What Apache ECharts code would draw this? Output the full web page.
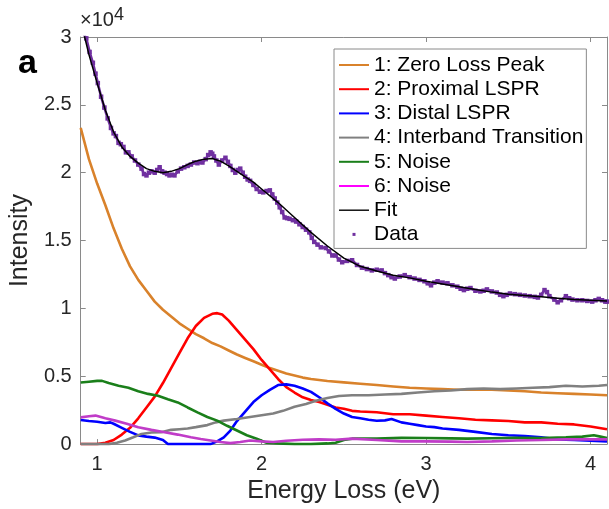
<!DOCTYPE html>
<html>
<head>
<meta charset="utf-8">
<script src="https://cdn.jsdelivr.net/npm/echarts@6/dist/echarts.min.js"></script>
<style>html,body{margin:0;padding:0;background:#fff}#c{width:609px;height:509px}</style>
</head>
<body>
<div id="c"></div>
<script>
const FONT = "'Liberation Sans', Arial, Helvetica, sans-serif";
const xTickLabels = ['1', '2', '3', '4'];
const yTickLabels = ['0', '0.5', '1', '1.5', '2', '2.5', '3'];
const seriesNames = ['1: Zero Loss Peak', '2: Proximal LSPR', '3: Distal LSPR', '4: Interband Transition', '5: Noise', '6: Noise', 'Fit', 'Data'];

// Intensity in units of 10^4
const zeroLoss = [[0.9,2.33],[0.95,2.10],[1.0,1.92],[1.05,1.76],[1.1,1.59],[1.15,1.44],[1.2,1.31],[1.25,1.21],[1.3,1.13],[1.35,1.05],[1.4,0.99],[1.45,0.94],[1.5,0.89],[1.55,0.85],[1.6,0.81],[1.65,0.78],[1.7,0.745],[1.75,0.72],[1.8,0.69],[1.85,0.66],[1.9,0.635],[1.95,0.61],[2.0,0.585],[2.05,0.56],[2.1,0.54],[2.15,0.52],[2.2,0.505],[2.25,0.49],[2.3,0.48],[2.4,0.465],[2.5,0.455],[2.6,0.445],[2.7,0.435],[2.8,0.425],[2.9,0.415],[3.0,0.41],[3.1,0.405],[3.2,0.40],[3.3,0.40],[3.4,0.40],[3.5,0.395],[3.6,0.39],[3.7,0.38],[3.8,0.375],[3.9,0.37],[4.0,0.365],[4.1,0.36]];
const proximal = [[0.9,0],[0.95,0],[1.0,0.0],[1.05,0.01],[1.1,0.03],[1.15,0.07],[1.2,0.12],[1.25,0.19],[1.3,0.27],[1.35,0.35],[1.4,0.45],[1.45,0.56],[1.5,0.67],[1.55,0.78],[1.6,0.87],[1.65,0.93],[1.7,0.96],[1.73,0.965],[1.76,0.955],[1.8,0.91],[1.85,0.84],[1.9,0.77],[1.95,0.70],[2.0,0.62],[2.05,0.55],[2.1,0.48],[2.15,0.42],[2.2,0.38],[2.25,0.345],[2.3,0.325],[2.35,0.31],[2.4,0.29],[2.45,0.27],[2.5,0.26],[2.55,0.245],[2.6,0.24],[2.7,0.235],[2.8,0.22],[2.9,0.22],[3.0,0.21],[3.1,0.2],[3.2,0.19],[3.3,0.18],[3.4,0.175],[3.5,0.17],[3.6,0.16],[3.7,0.16],[3.8,0.15],[3.9,0.145],[4.0,0.13],[4.1,0.11]];
const distal = [[0.9,0.178],[0.95,0.17],[1.0,0.165],[1.05,0.155],[1.08,0.16],[1.1,0.15],[1.15,0.12],[1.2,0.09],[1.25,0.064],[1.3,0.055],[1.35,0.048],[1.4,0.03],[1.43,0.0],[1.5,0],[1.6,0],[1.69,0],[1.73,0.02],[1.77,0.05],[1.81,0.1],[1.85,0.17],[1.9,0.24],[1.95,0.31],[2.0,0.36],[2.05,0.40],[2.1,0.435],[2.15,0.44],[2.2,0.43],[2.25,0.41],[2.3,0.385],[2.35,0.345],[2.4,0.30],[2.45,0.26],[2.5,0.225],[2.55,0.2],[2.6,0.19],[2.65,0.18],[2.7,0.172],[2.75,0.175],[2.79,0.185],[2.85,0.16],[2.9,0.15],[2.95,0.14],[3.0,0.13],[3.05,0.125],[3.1,0.115],[3.2,0.105],[3.3,0.09],[3.4,0.075],[3.5,0.065],[3.6,0.06],[3.7,0.05],[3.8,0.035],[3.9,0.03],[4.0,0.025],[4.1,0.02]];
const interband = [[0.9,0],[1.0,0],[1.07,0],[1.12,0.01],[1.17,0.027],[1.22,0.05],[1.27,0.075],[1.33,0.085],[1.39,0.088],[1.45,0.105],[1.5,0.11],[1.55,0.115],[1.6,0.125],[1.67,0.14],[1.72,0.16],[1.77,0.173],[1.85,0.185],[1.93,0.2],[2.01,0.215],[2.07,0.225],[2.13,0.245],[2.2,0.275],[2.27,0.295],[2.33,0.32],[2.4,0.34],[2.47,0.355],[2.55,0.36],[2.65,0.36],[2.75,0.365],[2.85,0.37],[2.95,0.38],[3.05,0.39],[3.15,0.395],[3.25,0.405],[3.35,0.41],[3.45,0.405],[3.55,0.41],[3.65,0.415],[3.75,0.42],[3.85,0.43],[3.95,0.425],[4.05,0.43],[4.1,0.435]];
const noise5 = [[0.9,0.454],[0.95,0.46],[1.0,0.466],[1.03,0.466],[1.07,0.45],[1.13,0.43],[1.19,0.415],[1.25,0.39],[1.31,0.37],[1.37,0.356],[1.43,0.33],[1.49,0.307],[1.55,0.27],[1.61,0.234],[1.67,0.2],[1.73,0.173],[1.79,0.135],[1.85,0.1],[1.91,0.065],[1.97,0.039],[2.03,0.01],[2.1,0.005],[2.2,0.0],[2.3,0.0],[2.4,0.005],[2.45,0.01],[2.5,0.03],[2.55,0.04],[2.7,0.04],[2.85,0.046],[3.0,0.045],[3.15,0.042],[3.25,0.04],[3.4,0.043],[3.55,0.046],[3.7,0.045],[3.85,0.05],[3.95,0.055],[4.02,0.065],[4.06,0.055],[4.1,0.045]];
const noise6 = [[0.9,0.197],[0.95,0.205],[0.99,0.21],[1.05,0.19],[1.11,0.173],[1.18,0.15],[1.25,0.124],[1.33,0.105],[1.41,0.088],[1.49,0.07],[1.57,0.05],[1.63,0.037],[1.69,0.027],[1.75,0.015],[1.81,0.007],[1.87,0.015],[1.93,0.027],[2.0,0.02],[2.07,0.015],[2.15,0.025],[2.25,0.032],[2.35,0.035],[2.45,0.032],[2.55,0.04],[2.7,0.03],[2.85,0.02],[3.0,0.02],[3.15,0.018],[3.25,0.015],[3.4,0.02],[3.55,0.027],[3.7,0.03],[3.85,0.035],[4.0,0.035],[4.1,0.035]];
const fitCurve = [[0.9,3.15],[0.92,3.02],[0.95,2.87],[1.0,2.66],[1.05,2.46],[1.1,2.30],[1.15,2.19],[1.2,2.12],[1.25,2.07],[1.3,2.03],[1.35,2.01],[1.4,2.00],[1.45,2.01],[1.5,2.03],[1.55,2.06],[1.6,2.085],[1.65,2.10],[1.7,2.105],[1.75,2.085],[1.8,2.05],[1.85,2.01],[1.9,1.97],[1.95,1.93],[2.0,1.88],[2.1,1.78],[2.2,1.67],[2.3,1.56],[2.4,1.46],[2.5,1.37],[2.6,1.31],[2.7,1.275],[2.8,1.245],[2.9,1.225],[3.0,1.20],[3.1,1.18],[3.2,1.16],[3.3,1.14],[3.4,1.12],[3.5,1.105],[3.6,1.095],[3.7,1.085],[3.8,1.075],[3.9,1.065],[4.0,1.06],[4.1,1.055]];
const measured = [[0.9,3.12],[0.92,3.02],[0.934,2.99],[0.954,2.89],[0.974,2.81],[0.99,2.73],[1.004,2.66],[1.024,2.56],[1.044,2.48],[1.064,2.40],[1.084,2.33],[1.1,2.29],[1.114,2.27],[1.13,2.22],[1.144,2.21],[1.16,2.19],[1.175,2.15],[1.19,2.15],[1.21,2.12],[1.23,2.09],[1.25,2.06],[1.27,2.03],[1.285,1.99],[1.30,1.98],[1.315,2.0],[1.33,2.01],[1.35,2.0],[1.365,2.02],[1.38,2.04],[1.395,2.01],[1.41,2.0],[1.425,1.99],[1.44,1.98],[1.455,1.985],[1.47,1.98],[1.49,2.01],[1.51,2.03],[1.53,2.04],[1.55,2.05],[1.57,2.06],[1.59,2.075],[1.61,2.07],[1.625,2.08],[1.64,2.075],[1.66,2.10],[1.675,2.13],[1.69,2.15],[1.70,2.14],[1.71,2.12],[1.725,2.09],[1.74,2.06],[1.76,2.09],[1.78,2.11],[1.795,2.08],[1.81,2.05],[1.825,2.02],[1.84,2.00],[1.855,2.02],[1.87,2.03],[1.885,2.0],[1.90,1.97],[1.915,1.95],[1.93,1.94],[1.95,1.91],[1.97,1.88],[1.99,1.86],[2.01,1.855],[2.03,1.865],[2.05,1.87],[2.065,1.84],[2.08,1.81],[2.095,1.78],[2.11,1.745],[2.125,1.71],[2.14,1.67],[2.155,1.665],[2.17,1.66],[2.19,1.65],[2.21,1.64],[2.23,1.62],[2.25,1.60],[2.27,1.58],[2.29,1.56],[2.305,1.52],[2.32,1.49],[2.34,1.47],[2.36,1.45],[2.39,1.445],[2.41,1.42],[2.43,1.39],[2.45,1.39],[2.47,1.36],[2.49,1.34],[2.52,1.35],[2.55,1.355],[2.58,1.32],[2.61,1.30],[2.64,1.29],[2.67,1.28],[2.70,1.285],[2.73,1.28],[2.75,1.26],[2.77,1.245],[2.79,1.23],[2.81,1.22],[2.84,1.235],[2.87,1.245],[2.90,1.23],[2.93,1.22],[2.96,1.21],[2.99,1.20],[3.01,1.185],[3.03,1.17],[3.05,1.19],[3.07,1.20],[3.10,1.19],[3.13,1.185],[3.16,1.17],[3.19,1.16],[3.21,1.145],[3.23,1.135],[3.25,1.145],[3.27,1.15],[3.30,1.13],[3.33,1.125],[3.35,1.13],[3.37,1.14],[3.40,1.125],[3.43,1.117],[3.45,1.10],[3.47,1.09],[3.49,1.10],[3.51,1.11],[3.54,1.105],[3.57,1.10],[3.60,1.095],[3.63,1.09],[3.66,1.085],[3.68,1.08],[3.70,1.10],[3.72,1.135],[3.735,1.12],[3.75,1.09],[3.78,1.065],[3.80,1.045],[3.82,1.06],[3.85,1.09],[3.87,1.075],[3.89,1.065],[3.92,1.06],[3.95,1.06],[3.98,1.055],[4.01,1.05],[4.03,1.06],[4.05,1.07],[4.07,1.06],[4.09,1.05],[4.1,1.05]];

const colors = ['#D9822B', '#FF0000', '#0000FF', '#808080', '#1A7F1A', '#C03CC8', '#000000', '#7030A0'];
const legendColors = ['#D9822B', '#FF0000', '#0000FF', '#808080', '#1A7F1A', '#FF00FF', '#000000', '#7030A0'];

const chart = echarts.init(document.getElementById('c'), null, {renderer: 'canvas'});
const axisLineColor = '#8a8a8a';
const labelColor = '#262626';

const lineIcon = 'path://M0,0M30,14M0,6h30v2h-30z';
const fitIcon = 'path://M0,0M30,14M0,6.3h30v1.4h-30z';
const dotIcon = 'path://M0,0M30,14M13.5,5.5h3v3h-3z';

function lineSeries(name, data, color, width, z) {
  return {
    name: name, type: 'line', data: data, showSymbol: false, symbol: 'none',
    smooth: false, clip: true, z: z, silent: true,
    lineStyle: {color: color, width: width}, itemStyle: {color: color},
    animation: false
  };
}

const seriesData = [zeroLoss, proximal, distal, interband, noise5, noise6];
const series = seriesData.map((d, i) => lineSeries(seriesNames[i], d, colors[i], 2.6, 2 + i));
series.push({
  name: seriesNames[7], type: 'line', data: measured, symbol: 'rect', symbolSize: 4.5, showSymbol: true,
  clip: true, z: 9, silent: true, animation: false,
  lineStyle: {color: colors[7], width: 2.6}, itemStyle: {color: colors[7]}
});
series.push(lineSeries(seriesNames[6], fitCurve, colors[6], 1.5, 10));

const option = {
  animation: false,
  textStyle: {fontFamily: FONT},
  title: {
    text: '×10{s|4}', left: 75, top: 1,
    textStyle: {fontFamily: FONT, fontSize: 20, fontWeight: 'normal', color: labelColor,
      rich: {s: {fontFamily: FONT, fontSize: 18, color: labelColor, verticalAlign: 'top', padding: [0, 0, 10, 0]}}}
  },
  graphic: [{
    type: 'text', left: 18, top: 47,
    style: {text: 'a', fontFamily: FONT, fontSize: 34, fontWeight: 'bold', fill: '#000'}
  }],
  grid: {left: 74, right: 2, top: 37, bottom: 62, containLabel: false},
  legend: {
    orient: 'vertical', left: 334, top: 49,
    padding: [5.5, 3, 3.5, 5],
    itemWidth: 30, itemHeight: 14, itemGap: 3.2,
    backgroundColor: '#fff', borderColor: '#8a8a8a', borderWidth: 1,
    textStyle: {fontFamily: FONT, fontSize: 21, color: '#000', lineHeight: 21},
    itemStyle: {borderWidth: 0},
    data: seriesNames.map((n, i) => ({
      name: n,
      icon: i === 7 ? dotIcon : (i === 6 ? fitIcon : lineIcon),
      itemStyle: {color: legendColors[i], borderWidth: 0}
    })),
    selectedMode: false
  },
  xAxis: [{
    type: 'value', min: 0.9, max: 4.1, minInterval: 1, maxInterval: 1,
    name: 'Energy Loss (eV)', nameLocation: 'middle', nameGap: 30,
    nameTextStyle: {fontFamily: FONT, fontSize: 25, color: labelColor},
    axisLine: {show: true, onZero: false, lineStyle: {color: axisLineColor, width: 1}},
    axisTick: {show: true, inside: true, length: 5, lineStyle: {color: axisLineColor}},
    axisLabel: {show: true, margin: 10, fontFamily: FONT, fontSize: 20, color: labelColor,
      showMinLabel: false, showMaxLabel: false,
      formatter: v => { const s = String(Math.round(v)); return (Math.abs(v - Math.round(v)) < 1e-6 && xTickLabels.indexOf(s) >= 0) ? s : ''; }},
    splitLine: {show: false}
  }, {
    type: 'value', position: 'top', min: 0.9, max: 4.1, minInterval: 1, maxInterval: 1,
    axisLine: {show: true, onZero: false, lineStyle: {color: axisLineColor, width: 1}},
    axisTick: {show: true, inside: true, length: 5, lineStyle: {color: axisLineColor}},
    axisLabel: {show: false}, splitLine: {show: false}
  }],
  yAxis: [{
    type: 'value', min: 0, max: 3, interval: 0.5,
    name: 'Intensity', nameLocation: 'middle', nameGap: 37, nameRotate: 90,
    nameTextStyle: {fontFamily: FONT, fontSize: 25, color: labelColor},
    axisLine: {show: true, onZero: false, lineStyle: {color: axisLineColor, width: 1}},
    axisTick: {show: true, inside: true, length: 5, lineStyle: {color: axisLineColor}},
    axisLabel: {show: true, margin: 9, fontFamily: FONT, fontSize: 20, color: labelColor,
      formatter: v => yTickLabels[Math.round(v / 0.5)]},
    splitLine: {show: false}
  }, {
    type: 'value', position: 'right', min: 0, max: 3, interval: 0.5,
    axisLine: {show: true, onZero: false, lineStyle: {color: axisLineColor, width: 1}},
    axisTick: {show: true, inside: true, length: 5, lineStyle: {color: axisLineColor}},
    axisLabel: {show: false}, splitLine: {show: false}
  }],
  series: series
};
chart.setOption(option);
</script>
</body>
</html>
